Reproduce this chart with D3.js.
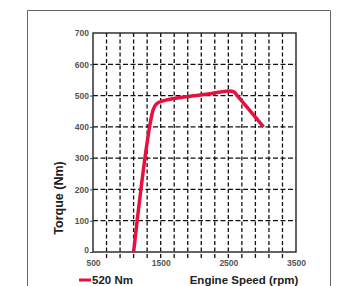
<!DOCTYPE html>
<html>
<head>
<meta charset="utf-8">
<script src="https://cdn.jsdelivr.net/npm/d3@7"></script>
<style>
  body { margin: 0; background: #fff; }
  svg { display: block; font-family: "Liberation Sans", Arial, sans-serif; }
</style>
</head>
<body>
<div id="chart"></div>
<script>
const width = 345
const height = 286
const speeds = [1100, 1390, 1440, 1520, 1800, 2200, 2500, 2580, 2650, 3020]
const torque = [0, 455, 474, 482, 494, 505, 515, 512, 495, 400]
const yTicks = [0, 100, 200, 300, 400, 500, 600, 700]
const xLabels = [500, 1500, 2500, 3500]
const seriesName = '520 Nm'

const margin = { left: 93, right: 49, top: 33, bottom: 34 }
const svg = d3.select('#chart').append('svg').attr('width', width).attr('height', height)

// outer frame
svg.append('path')
    .attr('d', `M27.5,${height + 2}V10.5H330.5V${height + 2}`)
    .attr('fill', 'none').attr('stroke', '#666').attr('stroke-width', 1)

const x = d3.scaleLinear().domain([500, 3500]).range([margin.left, width - margin.right])
const y = d3.scaleLinear().domain([0, 700]).range([height - margin.bottom, margin.top])

const gridX = d3.range(700, 3500, 200)
const gridY = yTicks.slice(1, -1)

// dashed grid
svg.append('g').selectAll('line').data(gridX).enter().append('line')
    .attr('x1', d => x(d)).attr('x2', d => x(d))
    .attr('y1', y(700)).attr('y2', y(0) + 6)
    .attr('stroke', '#111').attr('stroke-width', 1.3).attr('stroke-dasharray', '4,2.5')
svg.append('g').selectAll('line').data(gridY).enter().append('line')
    .attr('x1', x(500)).attr('x2', x(3500))
    .attr('y1', d => y(d)).attr('y2', d => y(d))
    .attr('stroke', '#111').attr('stroke-width', 1.3).attr('stroke-dasharray', '5,2.5')

// plot frame
svg.append('rect')
    .attr('x', x(500)).attr('y', y(700))
    .attr('width', x(3500) - x(500)).attr('height', y(0) - y(700))
    .attr('fill', 'none').attr('stroke', '#222').attr('stroke-width', 1.4)

// y axis
const yAxis = svg.append('g').attr('transform', `translate(${x(500)},0)`)
    .call(d3.axisLeft(y).tickValues(yTicks).tickSize(3).tickPadding(1))
yAxis.select('.domain').remove()
yAxis.selectAll('.tick line').attr('stroke', '#444').filter(d => d === 700).remove()
yAxis.selectAll('text').attr('font-size', 8.5).attr('fill', '#555').attr('font-weight', 'bold')
yAxis.selectAll('.tick').filter(d => d === 0).select('text').attr('dy', '0.1em')

// x axis labels
const xAxis = svg.append('g').attr('transform', `translate(0,${y(0)})`)
    .call(d3.axisBottom(x).tickValues(xLabels).tickFormat(d3.format('d')).tickSize(0).tickPadding(8))
xAxis.select('.domain').remove()
xAxis.selectAll('text').attr('font-size', 8.5).attr('fill', '#555').attr('font-weight', 'bold')

// torque curve
const line = d3.line().x((d, i) => x(speeds[i])).y(d => y(d)).curve(d3.curveCatmullRom.alpha(0.5))
svg.append('path').datum(torque)
    .attr('d', line)
    .attr('fill', 'none').attr('stroke', '#e8103e').attr('stroke-width', 3.5)
    .attr('stroke-linejoin', 'round')

// axis titles
svg.append('text')
    .attr('transform', `translate(63,198) rotate(-90)`)
    .attr('text-anchor', 'middle').attr('font-size', 12.5).attr('font-weight', 'bold').attr('fill', '#222')
    .text('Torque (Nm)')
svg.append('text')
    .attr('x', 244).attr('y', 284)
    .attr('text-anchor', 'middle').attr('font-size', 11.5).attr('font-weight', 'bold').attr('fill', '#222')
    .text('Engine Speed (rpm)')

// legend
svg.append('line').attr('x1', 79).attr('x2', 91).attr('y1', 280).attr('y2', 280)
    .attr('stroke', '#e8103e').attr('stroke-width', 3)
svg.append('text').attr('x', 92).attr('y', 284)
    .attr('font-size', 11.5).attr('font-weight', 'bold').attr('fill', '#222')
    .text(seriesName)
</script>
</body>
</html>
